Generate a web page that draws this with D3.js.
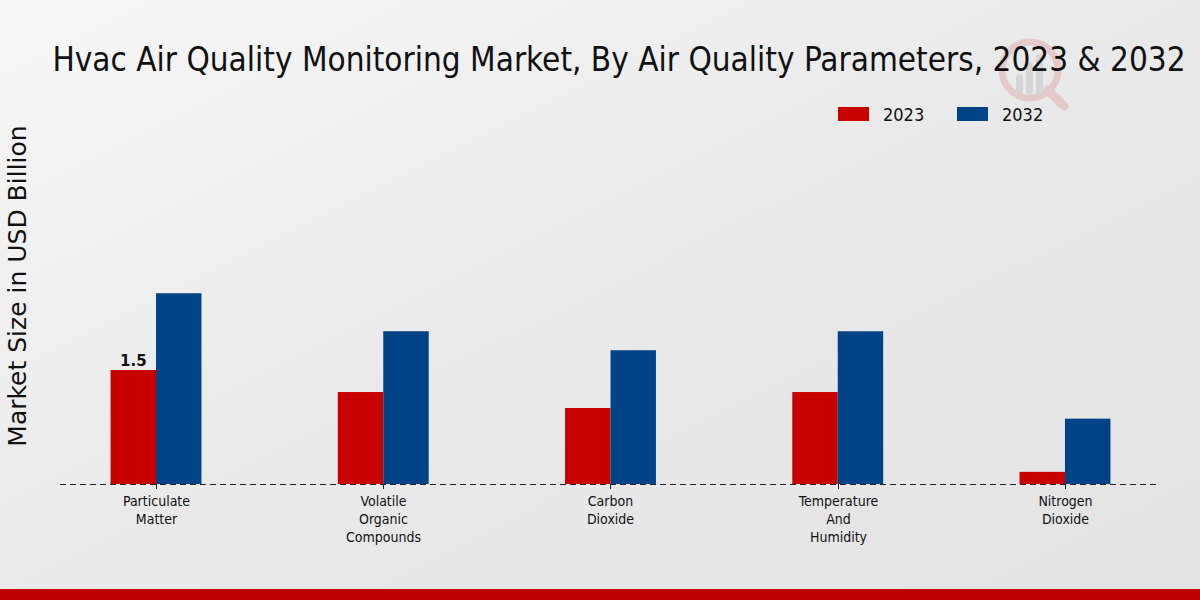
<!DOCTYPE html>
<html>
<head>
<meta charset="utf-8">
<script src="https://cdn.jsdelivr.net/npm/d3@7"></script>
<style>
  body { margin: 0; }
  svg { display: block; }
</style>
</head>
<body>
<div id="container"></div>
<script>
const width = 1200;
const height = 600;

// Data
const categories = ["Particulate Matter", "Volatile Organic Compounds", "Carbon Dioxide", "Temperature And Humidity", "Nitrogen Dioxide"];
const tickLabels = [["Particulate", "Matter"], ["Volatile", "Organic", "Compounds"], ["Carbon", "Dioxide"], ["Temperature", "And", "Humidity"], ["Nitrogen", "Dioxide"]];
const years = ["2023", "2032"];
const values2023 = [1.5, 1.21, 1.0, 1.21, 0.16];
const values2032 = [2.51, 2.01, 1.76, 2.01, 0.86];
const colors = ["#c80000", "#004487"];

const svg = d3.select("#container")
  .append("svg")
  .attr("width", width)
  .attr("height", height);

// background gradient
const defs = svg.append("defs");
const grad = defs.append("linearGradient")
  .attr("id", "bg")
  .attr("x1", "0%").attr("y1", "0%")
  .attr("x2", "100%").attr("y2", "100%");
grad.append("stop").attr("offset", "0%").attr("stop-color", "#f7f7f7");
grad.append("stop").attr("offset", "50%").attr("stop-color", "#e9e9ea");
grad.append("stop").attr("offset", "100%").attr("stop-color", "#e3e3e3");

svg.append("rect")
  .attr("width", width)
  .attr("height", height)
  .attr("fill", "url(#bg)");

// bottom red strip
svg.append("rect")
  .attr("x", 0).attr("y", 589)
  .attr("width", width).attr("height", 11)
  .attr("fill", "#c00000");

// faint watermark logo
const wm = svg.append("g").attr("opacity", 0.13).attr("transform", "translate(1030,70)");
wm.append("circle").attr("r", 28).attr("fill", "none").attr("stroke", "#c00000").attr("stroke-width", 7);
wm.append("line").attr("x1", 18).attr("y1", 20).attr("x2", 34).attr("y2", 36).attr("stroke", "#c00000").attr("stroke-width", 9).attr("stroke-linecap", "round");
[[-14, 4, 20], [-4, -8, 32], [6, -16, 40]].forEach(([x, y, h]) => {
  wm.append("rect").attr("x", x).attr("y", y).attr("width", 7).attr("height", h).attr("rx", 3).attr("fill", "#556");
});

// title
svg.append("text")
  .attr("x", 619)
  .attr("y", 71)
  .attr("text-anchor", "middle")
  .attr("font-family", "DejaVu Sans Condensed, DejaVu Sans")
  .attr("font-stretch", "condensed")
  .attr("font-size", 33)
  .attr("fill", "#111")
  .text("Hvac Air Quality Monitoring Market, By Air Quality Parameters, 2023 & 2032");

// y axis label
svg.append("text")
  .attr("transform", "translate(26,286) rotate(-90)")
  .attr("text-anchor", "middle")
  .attr("font-family", "DejaVu Sans")
  .attr("font-size", 25)
  .attr("fill", "#111")
  .text("Market Size in USD Billion");

// scales
const x0 = d3.scaleBand()
  .domain(categories)
  .range([42.4, 1178.6])
  .paddingInner(0.6)
  .paddingOuter(0.3);

const x1 = d3.scaleBand()
  .domain(years)
  .range([0, x0.bandwidth()]);

const y = d3.scaleLinear()
  .domain([0, 3])
  .range([484, 256]);

// bars
const groups = svg.append("g")
  .selectAll("g")
  .data(categories)
  .join("g")
  .attr("transform", d => "translate(" + x0(d) + ",0)");

groups.selectAll("rect")
  .data((d, i) => [values2023[i], values2032[i]].map((v, j) => ({ year: years[j], value: v })))
  .join("rect")
  .attr("x", d => x1(d.year))
  .attr("y", d => y(d.value))
  .attr("width", x1.bandwidth())
  .attr("height", d => y(0) - y(d.value))
  .attr("fill", (d, j) => colors[j]);

// value label on first bar
svg.append("text")
  .attr("x", x0(categories[0]) + x1("2023") + x1.bandwidth() / 2)
  .attr("y", y(values2023[0]) - 4)
  .attr("text-anchor", "middle")
  .attr("font-family", "DejaVu Sans")
  .attr("font-weight", "bold")
  .attr("font-size", 15)
  .attr("fill", "#111")
  .text(values2023[0]);

// baseline dashed
svg.append("line")
  .attr("x1", 60).attr("x2", 1160)
  .attr("y1", y(0) + 0.5).attr("y2", y(0) + 0.5)
  .attr("stroke", "#222")
  .attr("stroke-width", 1)
  .attr("stroke-dasharray", "6,4");

// ticks and labels
const xAxis = svg.append("g");
categories.forEach((c, i) => {
  const cx = Math.round(x0(c) + x0.bandwidth() / 2) + 0.5;
  xAxis.append("line")
    .attr("x1", cx).attr("x2", cx)
    .attr("y1", y(0)).attr("y2", y(0) + 5)
    .attr("stroke", "#222");
  const t = xAxis.append("text")
    .attr("x", cx)
    .attr("y", 506)
    .attr("text-anchor", "middle")
    .attr("font-family", "DejaVu Sans Condensed, DejaVu Sans")
    .attr("font-stretch", "condensed")
    .attr("font-size", 14)
    .attr("fill", "#111");
  tickLabels[i].forEach((line, k) => {
    t.append("tspan").attr("x", cx).attr("dy", k === 0 ? 0 : 18).text(line);
  });
});

// legend
const legend = svg.append("g");
const legendX = [838, 957];
years.forEach((yr, i) => {
  legend.append("rect")
    .attr("x", legendX[i]).attr("y", 107)
    .attr("width", 31).attr("height", 14)
    .attr("fill", colors[i]);
  legend.append("text")
    .attr("x", legendX[i] + 45)
    .attr("y", 121)
    .attr("font-family", "DejaVu Sans Condensed, DejaVu Sans")
    .attr("font-stretch", "condensed")
    .attr("font-size", 18)
    .attr("fill", "#111")
    .text(yr);
});
</script>
</body>
</html>
